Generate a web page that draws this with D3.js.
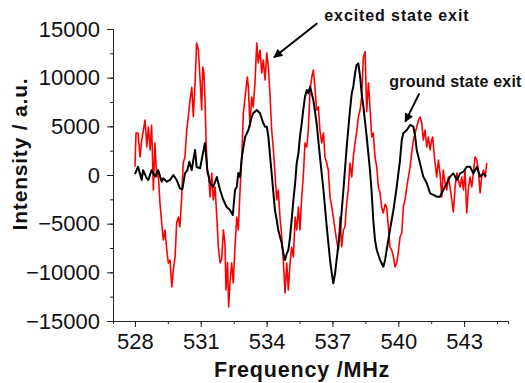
<!DOCTYPE html>
<html>
<head>
<meta charset="utf-8">
<script src="https://cdn.jsdelivr.net/npm/d3@7"></script>
<style>
  html, body { margin: 0; padding: 0; background: #fff; }
  svg { display: block; font-family: "Liberation Sans", Arial, sans-serif; }
</style>
</head>
<body>
<svg id="chart" width="525" height="383"></svg>
<script>
// excited state exit (red) : [frequency MHz, intensity]
const redSeries = [
  [528.00, 850], [528.05, 4320], [528.14, 4320], [528.23, 1850], [528.31, 3600],
  [528.46, 5650], [528.54, 2880], [528.61, 4930], [528.69, 2570], [528.76, 5140],
  [528.84, -1540], [528.91, 3290], [528.99, -210], [529.06, 210], [529.14, -2880],
  [529.22, -4930], [529.29, -6680], [529.37, -5650], [529.45, -7710], [529.52, -9040],
  [529.60, -8730], [529.68, -11510], [529.75, -9760], [529.83, -8420], [529.90, -4930],
  [529.98, -4320], [530.05, -5340], [530.13, -2260], [530.20, 1230], [530.28, 1850],
  [530.36, 4620], [530.43, 5960], [530.51, 7700], [530.59, 9000], [530.66, 6000],
  [530.74, 9500], [530.81, 13560], [530.89, 12840], [530.97, 9760], [531.04, 6680],
  [531.09, 11100], [531.14, 10500], [531.19, 8010], [531.24, 3600], [531.30, 210],
  [531.37, -210], [531.42, -2260], [531.50, 210], [531.57, -2570], [531.65, -1230],
  [531.73, -4320], [531.80, -7400], [531.88, -9040], [531.95, -8700], [532.03, -5650],
  [532.10, -6990], [532.15, -11820], [532.22, -9000], [532.27, -13560], [532.33, -11100],
  [532.41, -9040], [532.48, -11100], [532.56, -7400], [532.64, -4320], [532.71, -5650],
  [532.79, -1540], [532.87, 1850], [532.94, 6370], [533.02, 8010], [533.12, 10070],
  [533.17, 9000], [533.24, 5000], [533.32, 8010], [533.39, 7000], [533.47, 9450],
  [533.55, 13560], [533.62, 11510], [533.70, 12840], [533.78, 10480], [533.85, 11820],
  [533.93, 9760], [534.01, 12530], [534.08, 11100], [534.16, 8010], [534.23, 4620],
  [534.31, 2570], [534.38, 210], [534.46, -2570], [534.53, -1540], [534.61, -4320],
  [534.69, -6370], [534.76, -8730], [534.84, -12120], [534.92, -9040], [534.99, -11820],
  [535.07, -9040], [535.14, -7400], [535.22, -8420], [535.30, -4320], [535.37, -5650],
  [535.45, -3290], [535.52, -5650], [535.60, -2260], [535.67, -210], [535.75, 3290],
  [535.83, 2880], [535.90, 4620], [535.98, 8730], [536.06, 10070], [536.13, 10790],
  [536.21, 8730], [536.28, 6680], [536.36, 6990], [536.43, 4620], [536.51, 3290],
  [536.59, 4320], [536.66, 1850], [536.74, 1230], [536.81, 510], [536.89, -2260],
  [536.97, -3290], [537.04, -4320], [537.12, -5650], [537.19, -6680], [537.27, -7710],
  [537.35, -4320], [537.42, -7400], [537.50, -5650], [537.57, -5340], [537.65, -2880],
  [537.72, -1540], [537.80, 1230], [537.88, -210], [537.95, 1850], [538.03, 3290],
  [538.10, 4320], [538.18, 5960], [538.26, 6680], [538.33, 8010], [538.41, 12120],
  [538.49, 12670], [538.56, 6500], [538.64, 9450], [538.71, 7000], [538.79, 3900],
  [538.86, 4320], [538.94, 1850], [539.02, 820], [539.09, -1230], [539.17, -1850],
  [539.24, -3290], [539.32, -3900], [539.40, -3000], [539.47, -3290], [539.55, -5340],
  [539.62, -7400], [539.70, -7710], [539.78, -8420], [539.85, -9450], [539.93, -9040],
  [540.00, -8010], [540.08, -6370], [540.16, -5960], [540.23, -3290], [540.31, -2500],
  [540.39, -1230], [540.46, -210], [540.54, 820], [540.61, 2260], [540.69, 3600],
  [540.77, 4320], [540.84, 4930], [540.92, 5650], [540.99, 5960], [541.07, 5340],
  [541.14, 3600], [541.22, 4620], [541.30, 2880], [541.37, 3900], [541.45, 2570],
  [541.52, 3600], [541.57, 3900], [541.63, 2260], [541.68, 1230], [541.75, -210],
  [541.83, 1540], [541.90, 210], [541.98, -2260], [542.05, 510], [542.13, -820],
  [542.21, -1540], [542.28, -210], [542.36, -1230], [542.44, -2570], [542.51, -3800],
  [542.59, -1230], [542.67, 210], [542.74, -510], [542.82, -1230], [542.89, -210],
  [542.97, -1540], [543.04, 510], [543.12, -3900], [543.19, -1540], [543.27, -210],
  [543.35, -1230], [543.42, 210], [543.50, 1850], [543.58, 1540], [543.65, 510],
  [543.73, -1850], [543.80, -210], [543.88, 510], [543.96, -210], [544.03, 1230]
];

// ground state exit (black)
const blackSeries = [
  [528.00, 100], [528.14, 850], [528.31, -510], [528.37, 500], [528.54, -340],
  [528.61, -510], [528.76, 500], [528.91, -170], [529.06, 500], [529.22, -690],
  [529.29, -340], [529.45, -690], [529.60, -510], [529.75, 0], [529.90, -510],
  [530.05, -1370], [530.16, -1470], [530.28, 170], [530.39, 510], [530.48, 1370],
  [530.59, 500], [530.66, 1540], [530.74, 2570], [530.81, 820], [530.97, 700],
  [531.04, 1540], [531.19, 3290], [531.30, 510], [531.42, -820], [531.57, -1230],
  [531.73, -210], [531.88, -1540], [532.03, -2570], [532.18, -3290], [532.33, -3600],
  [532.46, -4110], [532.56, -1540], [532.64, -1230], [532.71, 210], [532.79, -210],
  [532.87, 1850], [533.02, 3900], [533.17, 4620], [533.32, 5960], [533.39, 6340],
  [533.55, 6680], [533.70, 6340], [533.85, 5310], [533.93, 4960], [534.01, 4960],
  [534.08, 3940], [534.16, 1880], [534.23, 170], [534.31, -1880], [534.38, -3600],
  [534.46, -4620], [534.53, -5650], [534.61, -6340], [534.69, -7020], [534.76, -8050],
  [534.84, -8730], [534.92, -8050], [534.99, -7710], [535.07, -6340], [535.14, -4620],
  [535.22, -2570], [535.30, -850], [535.37, 1200], [535.45, 2230], [535.52, 3940],
  [535.60, 5310], [535.67, 6680], [535.75, 8050], [535.83, 8730], [535.90, 8390],
  [535.98, 9070], [536.13, 7710], [536.28, 5310], [536.43, 1880], [536.59, -1540],
  [536.74, -5310], [536.89, -8730], [536.97, -10100], [537.04, -11130], [537.12, -10100],
  [537.19, -8730], [537.35, -5650], [537.50, -1540], [537.65, 2910], [537.80, 6680],
  [537.88, 8390], [537.95, 9070], [538.03, 10450], [538.10, 11300], [538.18, 11470],
  [538.26, 10100], [538.33, 8390], [538.41, 7020], [538.56, 3940], [538.71, 510],
  [538.79, -1880], [538.86, -4620], [538.94, -6680], [539.02, -7710], [539.17, -8730],
  [539.32, -9420], [539.40, -8730], [539.47, -7710], [539.62, -5650], [539.78, -3600],
  [539.93, -1200], [540.08, 1540], [540.16, 3600], [540.23, 4280], [540.39, 4620],
  [540.54, 5140], [540.69, 4960], [540.77, 3940], [540.84, 2570], [540.99, 1200],
  [541.14, -170], [541.30, -850], [541.45, -1880], [541.60, -2050], [541.75, -2230],
  [541.90, -2230], [542.05, -1540], [542.21, -850], [542.36, -170], [542.51, 170],
  [542.67, -510], [542.82, 170], [542.97, 340], [543.12, 850], [543.27, 850],
  [543.42, 170], [543.58, 850], [543.73, -170], [543.88, 170], [544.00, -170]
];

const xTicks = [528, 531, 534, 537, 540, 543];
const yTicks = [-15000, -10000, -5000, 0, 5000, 10000, 15000];

// annotation text and arrows, in data units
const notes = [
  { label: 'excited state exit', tx: 536.63, ty: 15850, from: [536.31, 15590], to: [534.34, 12090], spacing: 0.9 },
  { label: 'ground state exit', tx: 539.59, ty: 9010, from: [540.96, 8390], to: [540.32, 5480], spacing: 0.2 }
];

const svg = d3.select('#chart');
const plot = { left: 113, right: 508, top: 29, bottom: 321 };

const x = d3.scaleLinear().domain([527, 545]).range([plot.left, plot.right]);
const y = d3.scaleLinear().domain([-15000, 15000]).range([plot.bottom, plot.top]);

// arrow head
svg.append('defs').append('marker')
  .attr('id', 'head')
  .attr('viewBox', '0 0 10 10')
  .attr('refX', 9).attr('refY', 5)
  .attr('markerWidth', 5).attr('markerHeight', 4.5)
  .attr('markerUnits', 'strokeWidth')
  .attr('orient', 'auto')
  .append('path')
  .attr('d', 'M0,0 L10,5 L0,10 Z')
  .attr('fill', '#000');

const line = d3.line()
  .x(d => x(d[0]))
  .y(d => y(d[1]));

svg.append('path')
  .datum(redSeries)
  .attr('fill', 'none')
  .attr('stroke', '#ff0000')
  .attr('stroke-width', 1.6)
  .attr('stroke-linejoin', 'round')
  .attr('d', line);

svg.append('path')
  .datum(blackSeries)
  .attr('fill', 'none')
  .attr('stroke', '#000')
  .attr('stroke-width', 2)
  .attr('stroke-linejoin', 'round')
  .attr('d', line);

// minor ticks
const xMinor = d3.axisBottom(x).tickValues(d3.range(528, 545, 1.5)).tickSize(3).tickFormat('');
const yMinor = d3.axisLeft(y).tickValues(d3.range(-15000, 15001, 2500)).tickSize(3).tickFormat('');
svg.append('g').attr('transform', `translate(0,${plot.bottom})`).call(xMinor);
svg.append('g').attr('transform', `translate(${plot.left},0)`).call(yMinor);

// major axes
const xAxis = d3.axisBottom(x).tickValues(xTicks).tickSize(6).tickSizeOuter(0).tickPadding(6)
  .tickFormat(d3.format('d'));
const yAxis = d3.axisLeft(y).tickValues(yTicks).tickSize(6).tickSizeOuter(0).tickPadding(7)
  .tickFormat(d3.format('d'));

svg.append('g').attr('class', 'axis').attr('transform', `translate(0,${plot.bottom})`).call(xAxis);
svg.append('g').attr('class', 'axis').attr('transform', `translate(${plot.left},0)`).call(yAxis);

svg.selectAll('.tick line, .domain').attr('stroke', '#222').attr('stroke-width', 1);
svg.selectAll('.axis text')
  .attr('font-size', 22)
  .attr('font-family', '"Liberation Sans", Arial, sans-serif')
  .attr('fill', '#111');

// axis titles
svg.append('text')
  .attr('x', 302).attr('y', 377)
  .attr('text-anchor', 'middle')
  .attr('font-size', 21.5)
  .attr('font-weight', 'bold')
  .attr('letter-spacing', 0.8)
  .attr('fill', '#111')
  .text('Frequency /MHz');

svg.append('text')
  .attr('transform', 'translate(27,154) rotate(-90)')
  .attr('text-anchor', 'middle')
  .attr('font-size', 21)
  .attr('font-weight', 'bold')
  .attr('letter-spacing', 0.8)
  .attr('fill', '#111')
  .text('Intensity / a.u.');

// annotations
notes.forEach(n => {
  svg.append('text')
    .attr('x', x(n.tx)).attr('y', y(n.ty))
    .attr('font-size', 16)
    .attr('font-weight', 'bold')
    .attr('letter-spacing', n.spacing)
    .attr('fill', '#111')
    .text(n.label);
  svg.append('line')
    .attr('x1', x(n.from[0])).attr('y1', y(n.from[1]))
    .attr('x2', x(n.to[0])).attr('y2', y(n.to[1]))
    .attr('stroke', '#000')
    .attr('stroke-width', 2)
    .attr('marker-end', 'url(#head)');
});
</script>
</body>
</html>
